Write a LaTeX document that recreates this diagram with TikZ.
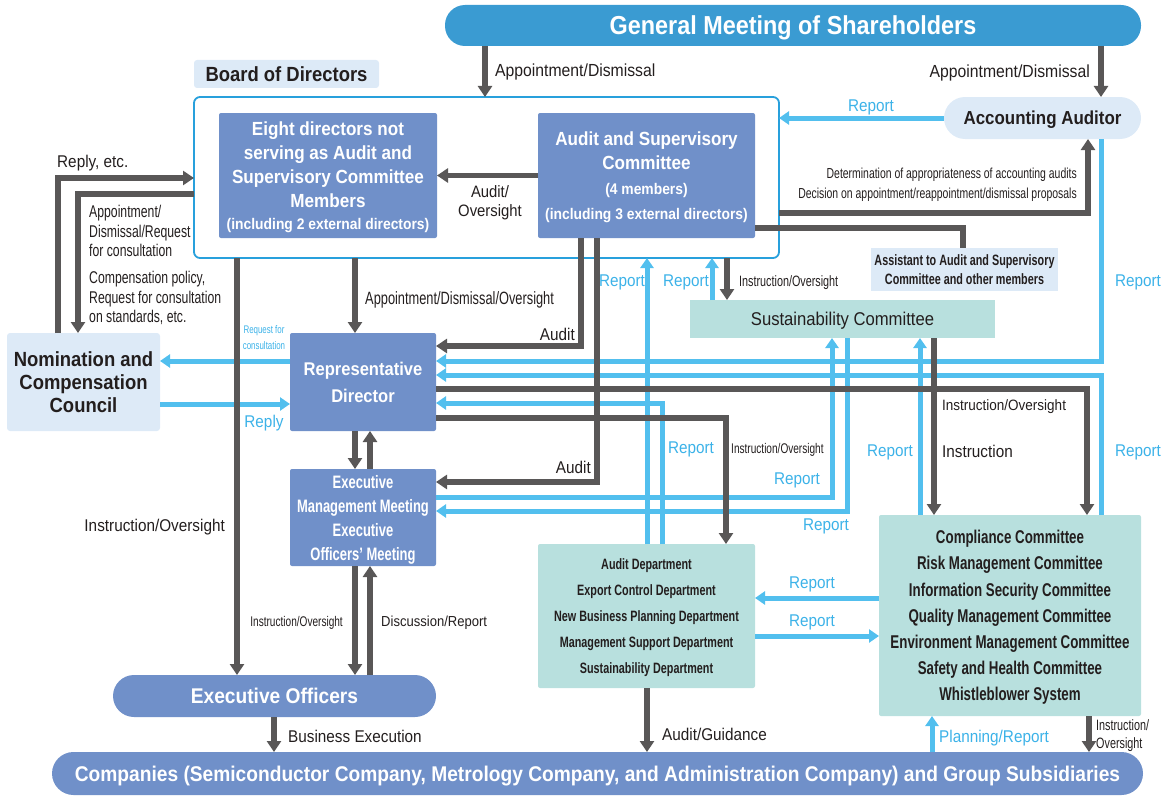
\documentclass[tikz,border=0pt]{standalone}
\usepackage{fontspec}
\setmainfont{Liberation Sans}
\newfontfamily\widfont{Liberation Sans}[FakeStretch=0.9]
\newfontfamily\narfont{Liberation Sans}[FakeStretch=0.72]
\usetikzlibrary{arrows.meta}

\definecolor{darkline}{RGB}{89,87,87}
\definecolor{lightline}{RGB}{82,191,238}
\definecolor{gmsblue}{RGB}{58,155,210}
\definecolor{midblue}{RGB}{112,144,201}
\definecolor{paleblue}{RGB}{221,234,247}
\definecolor{tealbox}{RGB}{184,224,222}
\definecolor{boardblue}{RGB}{40,160,220}
\definecolor{txt}{RGB}{35,30,30}
\definecolor{bluetxt}{RGB}{60,178,232}

\tikzset{
  box/.style={inner sep=0pt, outer sep=0pt, align=center, text depth=0pt},
  midbox/.style={box, fill=midblue, rounded corners=2pt, text=white},
  palebox/.style={box, fill=paleblue, rounded corners=3pt, text=txt},
  tealbx/.style={box, fill=tealbox, rounded corners=2pt, text=txt},
  darr/.style={draw=darkline, line width=5.5pt, -{Triangle[width=14pt,length=11pt]}},
  dline/.style={draw=darkline, line width=5.5pt},
  barr/.style={draw=lightline, line width=5pt, -{Triangle[width=13pt,length=10pt]}},
  lbl/.style={inner sep=0pt, text depth=0pt, text=txt, font=\widfont\fontsize{17}{20}\selectfont},
  blbl/.style={lbl, text=bluetxt},
  nlbl/.style={inner sep=0pt, text depth=0pt, text=txt, align=left, font=\narfont\fontsize{17}{19.5}\selectfont},
  slbl/.style={inner sep=0pt, text depth=0pt, text=txt, font=\narfont\fontsize{14}{16}\selectfont},
}

\begin{document}
\begin{tikzpicture}[x=1pt,y=-1pt]
\useasboundingbox (0,0) rectangle (1165,800);

\node[box, fill=gmsblue, rounded corners=20pt, minimum width=696pt, minimum height=41pt, text=white,
  font=\widfont\bfseries\fontsize{26}{30}\selectfont] (gms) at (793,25.5) {General Meeting of Shareholders};
\node[palebox, minimum width=185pt, minimum height=28pt, font=\widfont\bfseries\fontsize{20.5}{24}\selectfont] (bodlbl) at (286.5,74) {Board of Directors};
\node[box, draw=boardblue, line width=1.8pt, fill=white, rounded corners=6pt,
  minimum width=585pt, minimum height=161pt] (board) at (486.5,177.5) {};

\node[midbox, minimum width=218pt, minimum height=125pt, font=\widfont\bfseries\fontsize{19}{23.9}\selectfont] (eight) at (328,175.5)
  {Eight directors not\\serving as Audit and\\Supervisory Committee\\Members\\[-1.5pt]{\fontsize{15.4}{20}\selectfont(including 2 external directors)}};
\node[midbox, minimum width=217pt, minimum height=125pt, font=\widfont\bfseries\fontsize{19}{23.5}\selectfont] (asc) at (646.5,175.5)
  {Audit and Supervisory\\Committee\\[1.5pt]{\fontsize{15.4}{20}\selectfont(4 members)}\\[1.5pt]{\fontsize{15.4}{20}\selectfont(including 3 external directors)}};

\node[palebox, rounded corners=21pt, minimum width=197pt, minimum height=42pt, font=\widfont\bfseries\fontsize{18.8}{22}\selectfont] (aa) at (1042.5,118) {Accounting Auditor};
\node[palebox, rounded corners=0pt, minimum width=187pt, minimum height=43pt, font=\narfont\bfseries\fontsize{15}{18.5}\selectfont] (asst) at (964.5,269.5)
  {Assistant to Audit and Supervisory\\Committee and other members};
\node[tealbx, rounded corners=0pt, minimum width=305pt, minimum height=38pt, font=\widfont\fontsize{18.5}{22}\selectfont] (sust) at (842.5,319) {Sustainability Committee};

\node[palebox, minimum width=153pt, minimum height=98pt, font=\widfont\bfseries\fontsize{20.5}{23}\selectfont] (ncc) at (83.5,382)
  {Nomination and\\Compensation\\Council};
\node[midbox, minimum width=146pt, minimum height=98pt, font=\widfont\bfseries\fontsize{18.4}{27}\selectfont] (rep) at (363,382)
  {Representative\\Director};
\node[midbox, minimum width=146pt, minimum height=97pt, font=\narfont\bfseries\fontsize{18}{24}\selectfont] (emm) at (363,517.5)
  {Executive\\Management Meeting\\Executive\\Officers’ Meeting};

\node[tealbx, minimum width=217pt, minimum height=144pt, font=\narfont\bfseries\fontsize{15}{26}\selectfont] (dept) at (646.5,616)
  {Audit Department\\Export Control Department\\New Business Planning Department\\Management Support Department\\Sustainability Department};
\node[tealbx, minimum width=262pt, minimum height=201pt, font=\narfont\bfseries\fontsize{18.5}{26.2}\selectfont] (comp) at (1010,615.5)
  {Compliance Committee\\Risk Management Committee\\Information Security Committee\\Quality Management Committee\\Environment Management Committee\\Safety and Health Committee\\Whistleblower System};

\node[midbox, rounded corners=21pt, minimum width=323pt, minimum height=42pt, font=\widfont\bfseries\fontsize{21.3}{24}\selectfont] (eo) at (274.5,696) {Executive Officers};
\node[midbox, rounded corners=21.5pt, minimum width=1091pt, minimum height=43pt, font=\widfont\bfseries\fontsize{21.3}{24}\selectfont] (co) at (597.5,773.5)
  {Companies (Semiconductor Company, Metrology Company, and Administration Company) and Group Subsidiaries};

% light blue connectors
\draw[barr] (aa.west) -- (board.east |- aa.west);
\draw[barr] (sust.north -| 712,0) -- (board.south -| 712,0);
\draw[barr] (dept.north -| 647,0) -- (board.south -| 647,0);
\draw[barr] (rep.west |- 0,361) -- (ncc.east |- 0,361);
\draw[barr] (ncc.east |- 0,404) -- (rep.west |- 0,404);
\draw[barr] (aa.south -| 1101,0) |- (rep.east |- 0,361);
\draw[barr] (comp.north -| 1101,0) |- (rep.east |- 0,375);
\draw[barr] (dept.north -| 662,0) |- (rep.east |- 0,403);
\draw[barr] (emm.east |- 0,497) -| (sust.south -| 832,0);
\draw[barr] (sust.south -| 847,0) |- (emm.east |- 0,511);
\draw[barr] (comp.north -| 920,0) -- (sust.south -| 920,0);
\draw[barr] (comp.west |- 0,598) -- (dept.east |- 0,598);
\draw[barr] (dept.east |- 0,636) -- (comp.west |- 0,636);
\draw[barr] (co.north -| 932,0) -- (comp.south -| 932,0);

% dark connectors
\draw[darr] (gms.south -| 485,0) -- (board.north -| 485,0);
\draw[darr] (gms.south -| 1101,0) -- (aa.north -| 1101,0);
\draw[darr] (asc.west) -- (eight.east);
\draw[darr] (board.east |- 0,213) -| (aa.south -| 1088,0);
\draw[dline] (asc.east |- 0,228) -| (asst.north -| 963,0);
\draw[darr] (board.south -| 727,0) -- (sust.north -| 727,0);
\draw[darr] (asc.south -| 581,0) |- (rep.east |- 0,346);
\draw[darr] (asc.south -| 597,0) |- (emm.east |- 0,482);
\draw[darr] (board.south -| 355,0) -- (rep.north -| 355,0);
\draw[darr] (board.south -| 237,0) -- (eo.north -| 237,0);
\draw[darr] (ncc.north -| 58,0) |- (board.west |- 0,178);
\draw[darr] (board.west |- 0,194) -| (ncc.north -| 78,0);
\draw[darr] (rep.south -| 355,0) -- (emm.north -| 355,0);
\draw[darr] (emm.north -| 370,0) -- (rep.south -| 370,0);
\draw[darr] (rep.east |- 0,389) -| (comp.north -| 1087,0);
\draw[darr] (rep.east |- 0,418) -| (dept.north -| 726,0);
\draw[darr] (sust.south -| 934,0) -- (comp.north -| 934,0);
\draw[darr] (emm.south -| 355,0) -- (eo.north -| 355,0);
\draw[darr] (eo.north -| 370,0) -- (emm.south -| 370,0);
\draw[darr] (eo.south -| 274,0) -- (co.north -| 274,0);
\draw[darr] (dept.south -| 647,0) -- (co.north -| 647,0);
\draw[darr] (comp.south -| 1089,0) -- (co.north -| 1089,0);

% labels
\node[lbl, anchor=west, font=\widfont\fontsize{17.5}{20}\selectfont] (lappt) at (495,70) {Appointment/Dismissal};
\node[lbl, anchor=east, font=\widfont\fontsize{17.5}{20}\selectfont] (lapptaa) at (1090,71) {Appointment/Dismissal};
\node[blbl] (lrepaa) at (871,106) {Report};
\node[nlbl, anchor=east, align=right, font=\narfont\fontsize{14.5}{20.5}\selectfont] (ldeterm) at (1077,183)
  {Determination of appropriateness of accounting audits\\Decision on appointment/reappointment/dismissal proposals};
\node[lbl, align=center, font=\widfont\fontsize{16.5}{19.5}\selectfont] (laudov) at (490,201) {Audit/\\Oversight};
\node[lbl, anchor=west] (lreplyetc) at (57,161) {Reply, etc.};
\node[nlbl, anchor=west] (lapptncc) at (89,231) {Appointment/\\Dismissal/Request\\for consultation};
\node[nlbl, anchor=west] (lcomp) at (89,297) {Compensation policy,\\Request for consultation\\on standards, etc.};
\node[nlbl, anchor=west, font=\narfont\fontsize{17.8}{20}\selectfont] (lapptrep) at (365,298) {Appointment/Dismissal/Oversight};
\node[lbl, anchor=east] (lauditrep) at (575,334) {Audit};
\node[lbl, anchor=east] (lauditemm) at (591,467) {Audit};
\node[blbl, align=center, font=\narfont\fontsize{11}{16}\selectfont] (lreqcons) at (264,338) {Request for\\consultation};
\node[blbl] (lreply) at (264,421) {Reply};
\node[lbl, anchor=east] (linstreo) at (225,525) {Instruction/Oversight};
\node[blbl] (lrepbd1) at (622,281) {Report};
\node[blbl] (lrepbd2) at (686,281) {Report};
\node[slbl, anchor=west, font=\narfont\fontsize{15}{17}\selectfont] (linstsust) at (739,281) {Instruction/Oversight};
\node[blbl] (lrepaa2) at (1138,281) {Report};
\node[blbl] (lrepcomp) at (1138,451) {Report};
\node[lbl, anchor=west, font=\widfont\fontsize{15}{17}\selectfont] (linstcomp) at (942,405) {Instruction/Oversight};
\node[lbl, anchor=west] (linstr) at (942,451) {Instruction};
\node[blbl] (lrepsust) at (890,451) {Report};
\node[blbl] (lrepdept) at (691,448) {Report};
\node[slbl, anchor=west] (linstdept) at (731,448) {Instruction/Oversight};
\node[blbl] (lrepemm1) at (797,479) {Report};
\node[blbl] (lrepemm2) at (826,525) {Report};
\node[blbl] (lrepcd) at (812,583) {Report};
\node[blbl] (lrepdc) at (812,621) {Report};
\node[slbl, anchor=east] (linsteo2) at (343,621) {Instruction/Oversight};
\node[lbl, anchor=west, font=\widfont\fontsize{14.5}{17}\selectfont] (ldisc) at (381,621) {Discussion/Report};
\node[lbl, anchor=west] (lbusex) at (288,736) {Business Execution};
\node[lbl, anchor=west] (laudgd) at (662,734) {Audit/Guidance};
\node[blbl, anchor=west] (lplan) at (939,736) {Planning/Report};
\node[nlbl, anchor=west, font=\narfont\fontsize{15}{18}\selectfont] (linstco) at (1096,734) {Instruction/\\Oversight};
\end{tikzpicture}
\end{document}
